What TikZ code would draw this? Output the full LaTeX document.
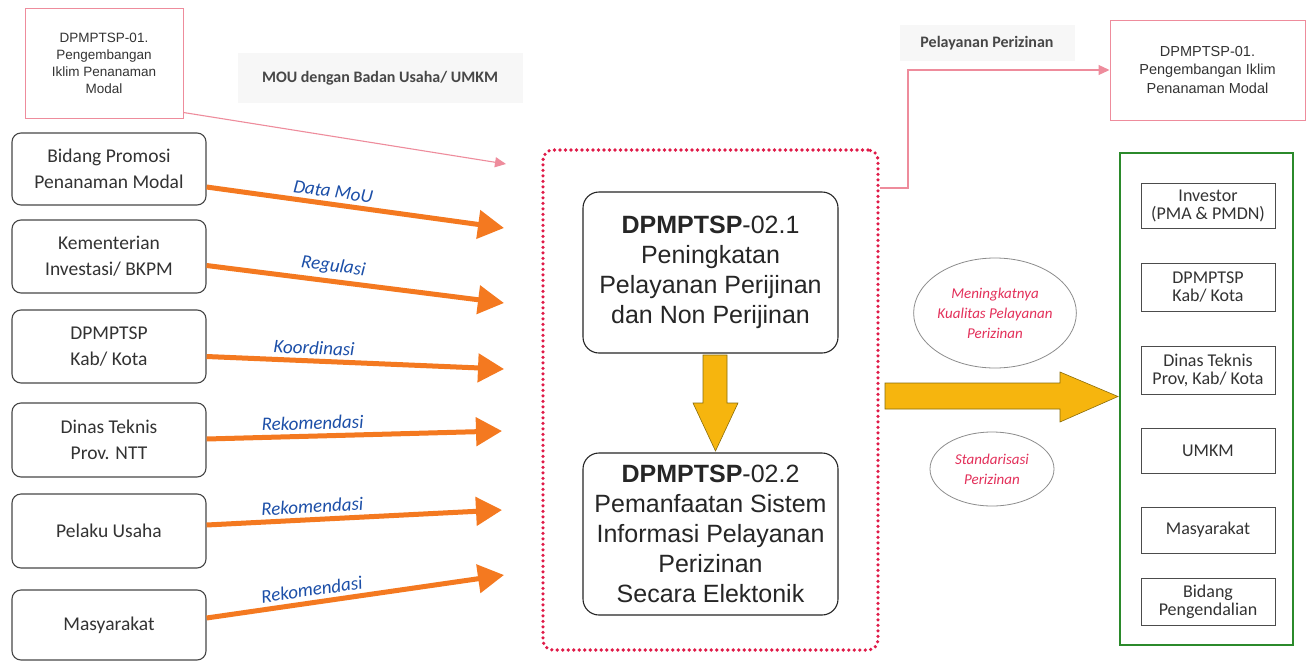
\documentclass[tikz,border=0pt]{standalone}
\usepackage{fontspec}
\setmainfont{Carlito}
\newfontfamily\arialf{Liberation Sans}
\usetikzlibrary{arrows.meta,shapes.geometric}
\definecolor{orng}{HTML}{F47920}
\definecolor{lblue}{HTML}{1C4FA8}
\definecolor{pinkl}{HTML}{EE8C9C}
\definecolor{dotred}{HTML}{E01A48}
\definecolor{yel}{HTML}{F6B50E}
\definecolor{yeledge}{HTML}{8A6D0A}
\definecolor{grn}{HTML}{2B8A2B}
\definecolor{txt}{HTML}{333333}
\definecolor{elltxt}{HTML}{E3305A}
\tikzset{
  lbox/.style={draw=txt!90, line width=1.1pt, rounded corners=9pt, minimum width=194pt, align=center, text=txt, font=\fontsize{19.5}{26}\selectfont, inner sep=2pt},
  cbox/.style={draw=black!85, line width=1.1pt, rounded corners=16pt, minimum width=255pt, align=center, text=black!85, font=\arialf\fontsize{25}{30}\selectfont, inner sep=2pt},
  pbox/.style={draw=pinkl, line width=1pt, align=center, text=black!80, font=\arialf\fontsize{13.5}{17}\selectfont, inner sep=2pt},
  gbox/.style={draw=black!70, line width=1pt, minimum width=134pt, align=center, text=txt, font=\fontsize{18}{18}\selectfont, inner sep=1pt},
  oarrow/.style={draw=orng, line width=5pt, -{Triangle[length=26pt,width=28pt]}},
  olabel/.style={text=lblue, font=\itshape\fontsize{19}{22}\selectfont, sloped, above, inner sep=4pt},
  pinkline/.style={draw=pinkl, line width=1.1pt, -{Triangle[length=11pt,width=10pt]}},
  graytag/.style={fill=black!3, text=black!72, font=\bfseries\fontsize{16}{18}\selectfont},
  yelshape/.style={fill=yel, draw=yeledge, line width=0.6pt},
  ell/.style={draw=black!45, line width=0.8pt, ellipse, align=center, text=elltxt, font=\itshape\fontsize{15}{20}\selectfont, inner sep=0pt}
}
\begin{document}
\begin{tikzpicture}[x=1pt,y=-1pt]
\useasboundingbox[fill=white] (0,0) rectangle (1307,662);

% top-left pink box and tag
\node[pbox, minimum width=158pt, minimum height=110pt] (p1) at (104,63) {DPMPTSP-01.\\Pengembangan\\Iklim Penanaman\\Modal};
\node[graytag, minimum width=285pt, minimum height=50pt] (mou) at (380,78) {MOU dengan Badan Usaha/ UMKM};

% left boxes
\node[lbox, minimum height=72pt] (b1) at (109,169) {Bidang Promosi\\Penanaman Modal};
\node[lbox, minimum height=73pt] (b2) at (109,256.5) {Kementerian\\Investasi/ BKPM};
\node[lbox, minimum height=73pt] (b3) at (109,346.5) {DPMPTSP\\Kab/ Kota};
\node[lbox, minimum height=74pt] (b4) at (109,440) {Dinas Teknis\\Prov. NTT};
\node[lbox, minimum height=74pt] (b5) at (109,531) {Pelaku Usaha};
\node[lbox, minimum height=70pt] (b6) at (109,625) {Masyarakat};

% dotted container
\node[draw=dotred, line width=3.6pt, dash pattern=on 0pt off 5.5pt, line cap=round, rounded corners=10pt, minimum width=335pt, minimum height=500pt] (db) at (710.5,400) {};

% arrow targets
\coordinate (t0) at (506,164);
\coordinate (t1) at (504,228);
\coordinate (t2) at (504,303);
\coordinate (t3) at (504,369);
\coordinate (t4) at (502,431);
\coordinate (t5) at (502,510);
\coordinate (t6) at (504,575);

\draw[pinkline] ([yshift=6pt]p1.south east) -- (t0);

\draw[oarrow] ([yshift=-18pt]b1.east) -- (t1) node[olabel, pos=0.42] {Data MoU};
\draw[oarrow] ([yshift=-9pt]b2.east) -- (t2) node[olabel, pos=0.42] {Regulasi};
\draw[oarrow] ([yshift=-10pt]b3.east) -- (t3) node[olabel, pos=0.36] {Koordinasi};
\draw[oarrow] ([yshift=1pt]b4.east) -- (t4) node[olabel, pos=0.36] {Rekomendasi};
\draw[oarrow] ([yshift=6pt]b5.east) -- (t5) node[olabel, pos=0.36] {Rekomendasi};
\draw[oarrow] ([yshift=7pt]b6.east) -- (t6) node[olabel, pos=0.36] {Rekomendasi};

% center boxes
\node[cbox, minimum height=161pt] (c1) at (710.5,272.5) {\textbf{DPMPTSP}-02.1\\Peningkatan\\Pelayanan Perijinan\\dan Non Perijinan};
\node[cbox, minimum height=162pt] (c2) at (710.5,534) {\textbf{DPMPTSP}-02.2\\Pemanfaatan Sistem\\Informasi Pelayanan\\Perizinan\\Secara Elektonik};

% yellow down arrow
\draw[yelshape] (703,355) -- (727,355) -- (727,403) -- (738,403) -- (715.5,451) -- (693,403) -- (703,403) -- cycle;

% top-right
\node[pbox, minimum width=195pt, minimum height=100pt, font=\arialf\fontsize{14.5}{18.5}\selectfont] (pr) at (1207.5,70) {DPMPTSP-01.\\Pengembangan Iklim\\Penanaman Modal};
\node[graytag, minimum width=175pt, minimum height=36pt] (pp) at (987,43) {Pelayanan Perizinan};
\coordinate (k) at (908,188);
\draw[pinkline] (db.east |- k) -- (k) |- (pr.west);

% ellipses
\node[ell, minimum width=160pt, minimum height=110pt] (e1) at (995,313) {Meningkatnya\\Kualitas Pelayanan\\Perizinan};
\node[ell, minimum width=124pt, minimum height=74pt] (e2) at (992,469) {Standarisasi\\Perizinan};

% big yellow right arrow
\draw[yelshape] (885,383) -- (1060,383) -- (1060,372) -- (1118,396.5) -- (1060,422) -- (1060,409) -- (885,409) -- cycle;

% green container
\node[draw=grn, line width=2.6pt, minimum width=173pt, minimum height=492pt] (gb) at (1206.5,399) {};
\node[gbox, minimum height=45pt] (g1) at (1208,205.5) {Investor\\(PMA \& PMDN)};
\node[gbox, minimum height=48pt] (g2) at (1208,287) {DPMPTSP\\Kab/ Kota};
\node[gbox, minimum height=48pt] (g3) at (1208,370) {Dinas Teknis\\Prov, Kab/ Kota};
\node[gbox, minimum height=45pt] (g4) at (1208,450.5) {UMKM};
\node[gbox, minimum height=46pt] (g5) at (1208,530) {Masyarakat};
\node[gbox, minimum height=47pt] (g6) at (1208,601.5) {Bidang\\Pengendalian};
\end{tikzpicture}
\end{document}
